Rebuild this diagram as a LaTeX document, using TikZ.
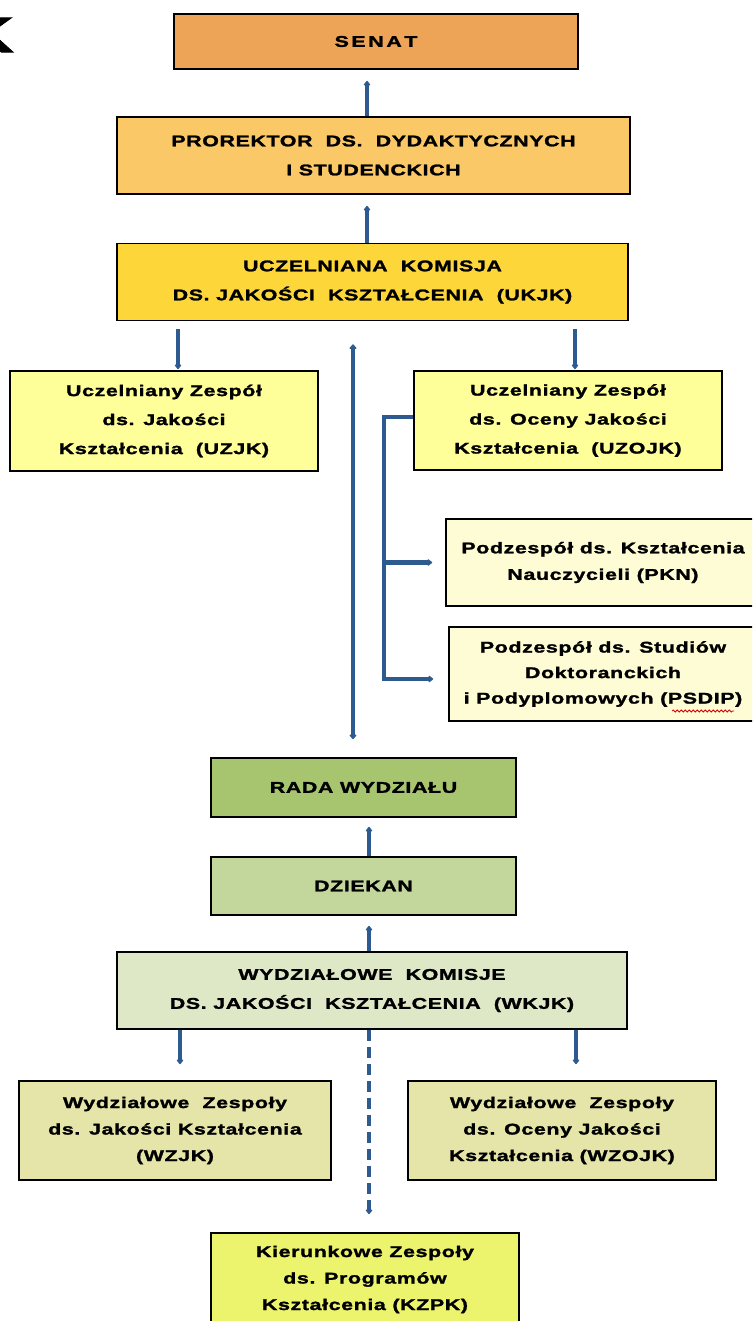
\documentclass[tikz,border=0pt]{standalone}
\usepackage{fontspec}
\setmainfont{Liberation Sans}[FakeStretch=1.38,LetterSpace=4,BoldFeatures={FakeBold=1.6}]
\usetikzlibrary{arrows.meta,decorations.pathmorphing,calc}
\definecolor{senatC}{HTML}{EDA456}
\definecolor{prorC}{HTML}{FAC867}
\definecolor{ukjkC}{HTML}{FDD73A}
\definecolor{uzC}{HTML}{FFFF99}
\definecolor{subC}{HTML}{FEFCD4}
\definecolor{radaC}{HTML}{A7C46E}
\definecolor{dziekC}{HTML}{C3D69C}
\definecolor{wkjkC}{HTML}{DEE8C6}
\definecolor{wzC}{HTML}{E5E5A9}
\definecolor{kzC}{HTML}{ECF36D}
\definecolor{arrowC}{HTML}{2E5B8F}
\begin{document}
\begin{tikzpicture}[x=1pt,y=-1pt,
  box/.style={draw=black, line width=1.6pt, inner sep=0pt, align=center,
    font=\bfseries\fontsize{15.5}{29}\selectfont},
  tbox/.style={box, font=\bfseries\fontsize{15.5}{26.5}\selectfont},
  txt/.style={inner sep=0pt, align=center, font=\bfseries\fontsize{15.5}{26.5}\selectfont},
  conn/.style={draw=arrowC, line width=3.5pt, -{Triangle[length=5pt,width=7.5pt,round]}},
  dconn/.style={conn, dash pattern=on 11pt off 6pt}]
\useasboundingbox (0,0) rectangle (752,1321);
\clip (0,0) rectangle (752,1321);
% partial letter at the top left edge
\node[inner sep=0pt, anchor=east, font=\bfseries\fontsize{50}{50}\selectfont] (kcut) at (14,35) {K};
% axis coordinates for the vertical connectors
\coordinate (spine) at (367,0);
\coordinate (lspine) at (178,0);
\coordinate (rspine) at (575,0);
\coordinate (big) at (353,0);
\coordinate (brk) at (384,0);
\coordinate (fspine) at (369,0);
\coordinate (flspine) at (180,0);
\coordinate (frspine) at (576,0);
% upper part
\node[box, fill=senatC, minimum width=404pt, minimum height=55pt] (senat) at (376,41.5) {S\,E\,N\,A\,T};
\node[box, fill=prorC, minimum width=513pt, minimum height=77pt] (prorektor) at (373.5,155.5)
  {PROREKTOR~~DS.~~DYDAKTYCZNYCH\\I STUDENCKICH};
\node[box, fill=ukjkC, minimum width=511pt, minimum height=77pt] (ukjk) at (372.5,282)
  {UCZELNIANA~~KOMISJA\\DS.~JAKOŚCI~~KSZTAŁCENIA~~(UKJK)};
\node[box, fill=uzC, minimum width=308pt, minimum height=100pt] (uzjk) at (164,421)
  {Uczelniany Zespół\\ds. Jakości\\Kształcenia~~(UZJK)};
\node[box, fill=uzC, minimum width=308pt, minimum height=99pt] (uzojk) at (568,420.5)
  {Uczelniany Zespół\\ds. Oceny Jakości\\Kształcenia~~(UZOJK)};
\node[tbox, fill=subC, minimum width=314pt, minimum height=87pt] (pkn) at (603,562.5)
  {Podzespół ds. Kształcenia\\Nauczycieli (PKN)};
\node[tbox, fill=subC, minimum width=308pt, minimum height=94pt, font=\bfseries\fontsize{15.5}{25.5}\selectfont] (psdip) at (603,674)
  {Podzespół ds. Studiów\\Doktoranckich\\i Podyplomowych (PSDIP)};
% lower part
\node[box, fill=radaC, minimum width=305pt, minimum height=59pt] (rada) at (363.5,787.5) {RADA WYDZIAŁU};
\node[box, fill=dziekC, minimum width=305pt, minimum height=58pt] (dziekan) at (363.5,886) {DZIEKAN};
\node[box, fill=wkjkC, minimum width=510pt, minimum height=77pt] (wkjk) at (372,990.5)
  {WYDZIAŁOWE~~KOMISJE\\DS.~JAKOŚCI~~KSZTAŁCENIA~~(WKJK)};
\node[tbox, fill=wzC, minimum width=312pt, minimum height=99pt] (wzjk) at (175,1130.5)
  {Wydziałowe~~Zespoły\\ds. Jakości Kształcenia\\(WZJK)};
\node[tbox, fill=wzC, minimum width=308pt, minimum height=99pt] (wzojk) at (562,1130.5)
  {Wydziałowe~~Zespoły\\ds. Oceny Jakości\\Kształcenia (WZOJK)};
\node[box, fill=kzC, minimum width=308pt, minimum height=110pt] (kzpk) at (365,1288) {};
\node[txt] (kzpkt) at (365,1279.5) {Kierunkowe Zespoły\\ds. Programów\\Kształcenia (KZPK)};
% spell-check mark under PSDIP
\draw[red!85!black, line width=0.8pt, decorate, decoration={snake, amplitude=1pt, segment length=4pt}]
  (672,711) -- (734,711);
% connectors, upper part
\draw[conn, shorten >=11pt] (prorektor.north -| spine) -- (senat.south -| spine);
\draw[conn, shorten >=11pt] (ukjk.north -| spine) -- (prorektor.south -| spine);
\draw[conn, shorten <=8pt, shorten >=1pt] (ukjk.south -| lspine) -- (uzjk.north -| lspine);
\draw[conn, shorten <=8pt, shorten >=1pt] (ukjk.south -| rspine) -- (uzojk.north -| rspine);
\draw[conn, {Triangle[length=5pt,width=8pt,round]}-{Triangle[length=5pt,width=8pt,round]}, line width=4pt,
  shorten <=23pt, shorten >=18pt] (ukjk.south -| big) -- (rada.north -| big);
\draw[conn, line width=4.5pt, shorten >=15pt] ([yshift=3.5pt]uzojk.west) -| ([yshift=-5pt]brk |- psdip.west) -- ([yshift=-5pt]psdip.west);
\draw[conn, line width=4.5pt, shorten >=13pt] (brk |- pkn.west) -- (pkn.west);
% connectors, lower part
\draw[conn, shorten >=9pt] (dziekan.north -| fspine) -- (rada.south -| fspine);
\draw[conn, shorten >=10pt] (wkjk.north -| fspine) -- (dziekan.south -| fspine);
\draw[conn, shorten >=16pt] (wkjk.south -| flspine) -- (wzjk.north -| flspine);
\draw[conn, shorten >=16pt] (wkjk.south -| frspine) -- (wzojk.north -| frspine);
\draw[dconn, shorten >=18pt] (wkjk.south -| fspine) -- (kzpk.north -| fspine);
\end{tikzpicture}
\end{document}
